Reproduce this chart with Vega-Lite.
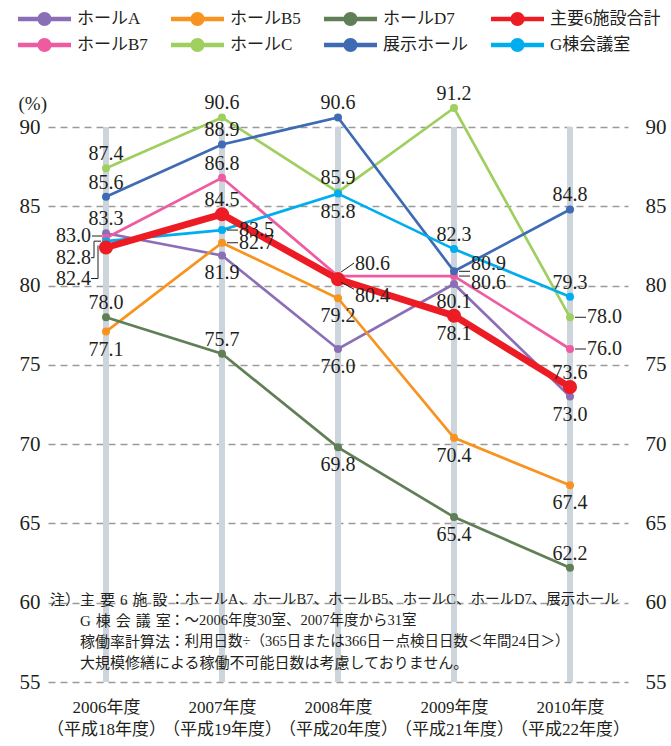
{
  "$schema": "https://vega.github.io/schema/vega-lite/v6.json",
  "width": 594,
  "height": 555,
  "autosize": {"type": "none"},
  "padding": {"left": 48, "top": 127, "right": 29, "bottom": 64},
  "background": "white",
  "config": {"view": {"stroke": null}, "font": "Liberation Serif, Noto Sans CJK JP"},
  "data": {"values": [
    {"series":"ホールA","year":"2006","value":83.3,"pos":"a"},
    {"series":"ホールA","year":"2007","value":81.9,"pos":"b"},
    {"series":"ホールA","year":"2008","value":76.0,"pos":"b"},
    {"series":"ホールA","year":"2009","value":80.1,"pos":"b"},
    {"series":"ホールA","year":"2010","value":73.0,"pos":"b"},
    {"series":"ホールB5","year":"2006","value":77.1,"pos":"b"},
    {"series":"ホールB5","year":"2007","value":82.7,"pos":"r"},
    {"series":"ホールB5","year":"2008","value":79.2,"pos":"b"},
    {"series":"ホールB5","year":"2009","value":70.4,"pos":"b"},
    {"series":"ホールB5","year":"2010","value":67.4,"pos":"b"},
    {"series":"ホールD7","year":"2006","value":78.0,"pos":"a"},
    {"series":"ホールD7","year":"2007","value":75.7,"pos":"a"},
    {"series":"ホールD7","year":"2008","value":69.8,"pos":"b"},
    {"series":"ホールD7","year":"2009","value":65.4,"pos":"b"},
    {"series":"ホールD7","year":"2010","value":62.2,"pos":"a"},
    {"series":"主要6施設合計","year":"2006","value":82.4,"pos":"l3"},
    {"series":"主要6施設合計","year":"2007","value":84.5,"pos":"a"},
    {"series":"主要6施設合計","year":"2008","value":80.4,"pos":"rd"},
    {"series":"主要6施設合計","year":"2009","value":78.1,"pos":"b"},
    {"series":"主要6施設合計","year":"2010","value":73.6,"pos":"a"},
    {"series":"ホールB7","year":"2006","value":83.0,"pos":"l1"},
    {"series":"ホールB7","year":"2007","value":86.8,"pos":"a"},
    {"series":"ホールB7","year":"2008","value":80.6,"pos":"ru"},
    {"series":"ホールB7","year":"2009","value":80.6,"pos":"r+"},
    {"series":"ホールB7","year":"2010","value":76.0,"pos":"r"},
    {"series":"ホールC","year":"2006","value":87.4,"pos":"a"},
    {"series":"ホールC","year":"2007","value":90.6,"pos":"a"},
    {"series":"ホールC","year":"2008","value":85.9,"pos":"a"},
    {"series":"ホールC","year":"2009","value":91.2,"pos":"a"},
    {"series":"ホールC","year":"2010","value":78.0,"pos":"r"},
    {"series":"展示ホール","year":"2006","value":85.6,"pos":"a"},
    {"series":"展示ホール","year":"2007","value":88.9,"pos":"a"},
    {"series":"展示ホール","year":"2008","value":90.6,"pos":"a"},
    {"series":"展示ホール","year":"2009","value":80.9,"pos":"r-"},
    {"series":"展示ホール","year":"2010","value":84.8,"pos":"a"},
    {"series":"G棟会議室","year":"2006","value":82.8,"pos":"l2"},
    {"series":"G棟会議室","year":"2007","value":83.5,"pos":"r"},
    {"series":"G棟会議室","year":"2008","value":85.8,"pos":"b"},
    {"series":"G棟会議室","year":"2009","value":82.3,"pos":"a"},
    {"series":"G棟会議室","year":"2010","value":79.3,"pos":"a"}
  ]},
  "encoding": {
    "x": {"field": "year", "type": "ordinal",
      "scale": {"type": "point", "padding": 0.5, "range": [0, 580]}, "axis": null},
    "y": {"field": "value", "type": "quantitative",
      "scale": {"domain": [55, 90], "nice": false, "zero": false}, "axis": null}
  },
  "resolve": {"axis": {"y": "independent", "x": "independent"}},
  "layer": [
    {
      "transform": [{"filter": "datum.series === 'ホールA'"}],
      "mark": {"type": "rule", "strokeWidth": 6, "color": "#ccd4dc"},
      "encoding": {
        "x": {"field": "year", "type": "ordinal",
          "scale": {"type": "point", "padding": 0.5, "range": [0, 580]},
          "axis": {"orient": "bottom", "labelExpr": "[datum.label + '年度', '（平成' + (toNumber(datum.label) - 1988) + '年度）']",
            "labelAngle": 0, "labelFontSize": 17, "labelLineHeight": 22, "labelPadding": 17,
            "labelColor": "#231f20", "labelFont": "Liberation Serif, Noto Sans CJK JP",
            "ticks": false, "domain": false, "grid": false, "title": null}},
        "y": {"datum": 90, "type": "quantitative",
          "scale": {"domain": [55, 90], "nice": false, "zero": false},
          "axis": {"orient": "left", "values": [55, 60, 65, 70, 75, 80, 85, 90],
            "grid": true, "gridDash": [7, 5], "gridColor": "#9a9a9a", "gridWidth": 1.3,
            "ticks": false, "domain": false, "labelPadding": 8, "labelFontSize": 21,
            "labelColor": "#231f20", "labelFont": "Liberation Serif",
            "title": "(%)", "titleAngle": 0, "titleX": -30, "titleY": -24,
            "titleAlign": "left", "titleBaseline": "middle", "titleFontSize": 19,
            "titleFontWeight": "normal", "titleColor": "#231f20", "titleFont": "Liberation Serif"}},
        "y2": {"datum": 55}
      }
    },
    {
      "transform": [{"filter": "datum.series !== '主要6施設合計'"}],
      "mark": {"type": "line", "strokeWidth": 2.7},
      "encoding": {
        "y": {"field": "value", "type": "quantitative",
          "scale": {"domain": [55, 90], "nice": false, "zero": false},
          "axis": {"orient": "right", "values": [55, 60, 65, 70, 75, 80, 85, 90],
            "grid": false, "ticks": false, "domain": false, "labelPadding": 3,
            "labelFontSize": 21, "labelColor": "#231f20", "labelFont": "Liberation Serif", "title": null}},
        "color": {"field": "series", "type": "nominal",
          "scale": {"domain": ["ホールA", "ホールB5", "ホールD7", "主要6施設合計", "ホールB7", "ホールC", "展示ホール", "G棟会議室"],
            "range": ["#8b6fb6", "#f7931e", "#607f57", "#ed1c24", "#ef5ba1", "#9fcf5f", "#3e6bb4", "#00aeef"]},
          "legend": {"orient": "none", "legendX": -13.5, "legendY": -118, "direction": "horizontal", "columns": 4,
            "title": null, "padding": 0,
            "symbolType": "M-2.65,-0.23H2.65V0.23H-2.65Z M0.7,0A0.7,0.7 0 1,1 -0.7,0A0.7,0.7 0 1,1 0.7,0Z",
            "symbolSize": 400, "symbolStrokeWidth": 0,
            "labelFontSize": 17, "labelFont": "Liberation Serif, Noto Sans CJK JP", "labelColor": "#231f20",
            "labelOffset": 22.5, "columnPadding": 22, "rowPadding": 8,
            "encode": {"symbols": {"update": {"fill": {"scale": "color", "field": "value"},
              "size": {"value": 400}, "opacity": {"value": 1}, "strokeWidth": {"value": 0}}}}}
        }
      }
    },
    {
      "transform": [{"filter": "datum.series !== '主要6施設合計'"}],
      "mark": {"type": "point", "filled": true, "size": 64, "opacity": 1},
      "encoding": {"color": {"field": "series", "type": "nominal"}}
    },
    {
      "transform": [{"filter": "datum.series === '主要6施設合計'"}],
      "mark": {"type": "line", "strokeWidth": 6.8},
      "encoding": {"color": {"field": "series", "type": "nominal"}}
    },
    {
      "transform": [{"filter": "datum.series === '主要6施設合計'"}],
      "mark": {"type": "point", "filled": true, "size": 200, "opacity": 1},
      "encoding": {"color": {"field": "series", "type": "nominal"}}
    },
    {
      "encoding": {"x2": {"field": "year"}, "y2": {"field": "value"}},
      "layer": [
        {"transform": [{"filter": "indexof(['r','r-','r+'], datum.pos) >= 0"}],
         "mark": {"type": "rule", "color": "#231f20", "strokeWidth": 1, "xOffset": 5, "x2Offset": 16}},
        {"transform": [{"filter": "datum.pos === 'ru'"}],
         "mark": {"type": "rule", "color": "#231f20", "strokeWidth": 1, "xOffset": 3, "x2Offset": 16, "yOffset": -4, "y2Offset": -13}},
        {"transform": [{"filter": "datum.pos === 'rd'"}],
         "mark": {"type": "rule", "color": "#231f20", "strokeWidth": 1, "xOffset": 3, "x2Offset": 16, "yOffset": 3, "y2Offset": 10}},
        {"transform": [{"filter": "datum.pos === 'l1'"}],
         "mark": {"type": "rule", "color": "#231f20", "strokeWidth": 1, "xOffset": -14, "x2Offset": -4, "yOffset": -2, "y2Offset": -2}},
        {"transform": [{"filter": "datum.pos === 'l2'"}],
         "mark": {"type": "rule", "color": "#231f20", "strokeWidth": 1, "xOffset": -15, "x2Offset": -12, "yOffset": 16.5, "y2Offset": 16.5}},
        {"transform": [{"filter": "datum.pos === 'l2'"}],
         "mark": {"type": "rule", "color": "#231f20", "strokeWidth": 1, "xOffset": -12, "x2Offset": -12, "yOffset": 16.5, "y2Offset": 0}},
        {"transform": [{"filter": "datum.pos === 'l2'"}],
         "mark": {"type": "rule", "color": "#231f20", "strokeWidth": 1, "xOffset": -12, "x2Offset": -5, "yOffset": 0, "y2Offset": 0}},
        {"transform": [{"filter": "datum.pos === 'l3'"}],
         "mark": {"type": "rule", "color": "#231f20", "strokeWidth": 1, "xOffset": -15, "x2Offset": -8, "yOffset": 31, "y2Offset": 31}},
        {"transform": [{"filter": "datum.pos === 'l3'"}],
         "mark": {"type": "rule", "color": "#231f20", "strokeWidth": 1, "xOffset": -8, "x2Offset": -8, "yOffset": 31, "y2Offset": -2}}
      ]
    },
    {
      "encoding": {"text": {"field": "value", "type": "quantitative", "format": ".1f"}},
      "layer": [
        {"transform": [{"filter": "datum.pos === 'a'"}],
         "mark": {"type": "text", "dy": -14, "fontSize": 20, "font": "Liberation Serif", "color": "#231f20"}},
        {"transform": [{"filter": "datum.pos === 'b'"}],
         "mark": {"type": "text", "dy": 18, "fontSize": 20, "font": "Liberation Serif", "color": "#231f20"}},
        {"transform": [{"filter": "datum.pos === 'r'"}],
         "mark": {"type": "text", "align": "left", "dx": 17, "dy": 0, "fontSize": 20, "font": "Liberation Serif", "color": "#231f20"}},
        {"transform": [{"filter": "datum.pos === 'r-'"}],
         "mark": {"type": "text", "align": "left", "dx": 17, "dy": -7, "fontSize": 20, "font": "Liberation Serif", "color": "#231f20"}},
        {"transform": [{"filter": "datum.pos === 'r+'"}],
         "mark": {"type": "text", "align": "left", "dx": 17, "dy": 7, "fontSize": 20, "font": "Liberation Serif", "color": "#231f20"}},
        {"transform": [{"filter": "datum.pos === 'ru'"}],
         "mark": {"type": "text", "align": "left", "dx": 17, "dy": -12, "fontSize": 20, "font": "Liberation Serif", "color": "#231f20"}},
        {"transform": [{"filter": "datum.pos === 'rd'"}],
         "mark": {"type": "text", "align": "left", "dx": 17, "dy": 17, "fontSize": 20, "font": "Liberation Serif", "color": "#231f20"}},
        {"transform": [{"filter": "datum.pos === 'l1'"}],
         "mark": {"type": "text", "align": "right", "dx": -15, "dy": -2, "fontSize": 20, "font": "Liberation Serif", "color": "#231f20"}},
        {"transform": [{"filter": "datum.pos === 'l2'"}],
         "mark": {"type": "text", "align": "right", "dx": -15, "dy": 16.5, "fontSize": 20, "font": "Liberation Serif", "color": "#231f20"}},
        {"transform": [{"filter": "datum.pos === 'l3'"}],
         "mark": {"type": "text", "align": "right", "dx": -15, "dy": 31, "fontSize": 20, "font": "Liberation Serif", "color": "#231f20"}}
      ]
    },
    {
      "transform": [{"filter": "datum.series === 'ホールA' && datum.year === '2006'"}],
      "encoding": {
        "y": {"datum": 60.62, "type": "quantitative", "axis": null,
          "scale": {"domain": [55, 90], "nice": false, "zero": false}}
      },
      "layer": [
        {"mark": {"type": "text", "align": "left", "baseline": "top", "dx": -56,
          "fontSize": 15, "font": "Liberation Serif, Noto Sans CJK JP", "color": "#231f20"},
         "encoding": {"text": {"value": "注）"}}},
        {"mark": {"type": "text", "align": "left", "baseline": "top", "dx": -26, "lineHeight": 21,
          "fontSize": 15, "font": "Liberation Serif, Noto Sans CJK JP", "color": "#231f20"},
         "encoding": {"text": {"value": ["主\u2004要\u20046\u2004施\u2004設", "G\u2004棟\u2004会\u2004議\u2004室", "稼働率計算法", "大規模修繕による稼働不可能日数は考慮しておりません。"]}}},
        {"mark": {"type": "text", "align": "left", "baseline": "top", "dx": 64, "lineHeight": 21,
          "fontSize": 14.5, "font": "Liberation Serif, Noto Sans CJK JP", "color": "#231f20"},
         "encoding": {"text": {"value": ["：ホールA、ホールB7、ホールB5、ホールC、ホールD7、展示ホール", "：～2006年度30室、2007年度から31室", "：利用日数÷（365日または366日－点検日日数＜年間24日＞）"]}}}
      ]
    }
  ]
}
